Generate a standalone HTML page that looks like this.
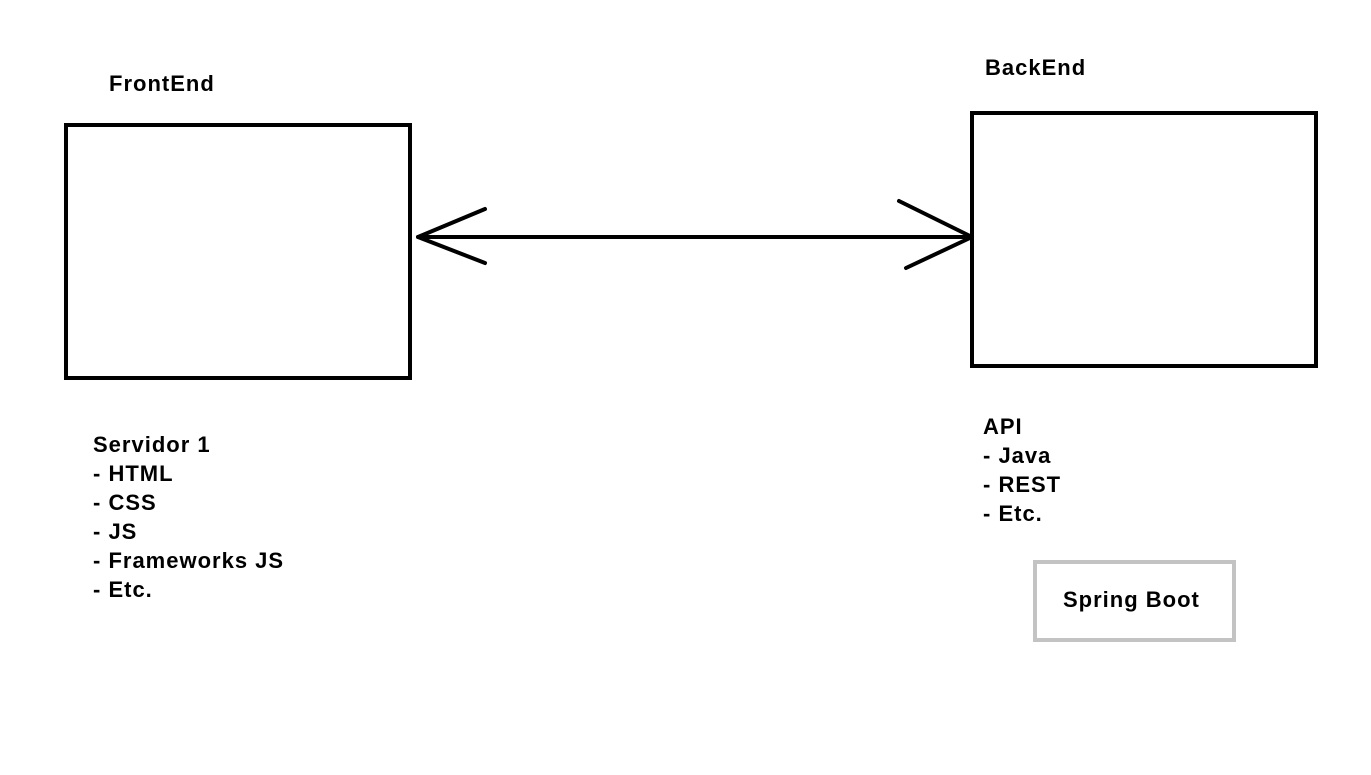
<!DOCTYPE html>
<html><head><style>html,body{margin:0;padding:0;background:#fff}svg{display:block}text{font-family:"Liberation Sans",Arial,sans-serif;font-weight:bold;font-size:22px;letter-spacing:1px;fill:#000}</style></head>
<body>
<svg width="1371" height="775" viewBox="0 0 1371 775" xmlns="http://www.w3.org/2000/svg">
<rect x="0" y="0" width="1371" height="775" fill="#fff"/>
<rect x="66" y="125" width="344" height="253" fill="none" stroke="#000" stroke-width="4"/>
<rect x="972" y="113" width="344" height="253" fill="none" stroke="#000" stroke-width="4"/>
<rect x="1035" y="562" width="199" height="78" fill="none" stroke="#c3c3c3" stroke-width="4"/>
<g stroke="#000" stroke-width="4" fill="none" stroke-linecap="round" stroke-linejoin="round">
<line x1="418" y1="237" x2="972" y2="237"/>
<polyline points="485,209 418,237 485,263"/>
<polyline points="899,201 972,237 906,268"/>
</g>
<text x="109" y="91">FrontEnd</text>
<text x="985" y="75">BackEnd</text>
<text x="93" y="452">Servidor 1</text>
<text x="93" y="481">- HTML</text>
<text x="93" y="510">- CSS</text>
<text x="93" y="539">- JS</text>
<text x="93" y="568">- Frameworks JS</text>
<text x="93" y="597">- Etc.</text>
<text x="983" y="434">API</text>
<text x="983" y="463">- Java</text>
<text x="983" y="492">- REST</text>
<text x="983" y="521">- Etc.</text>
<text x="1063" y="607">Spring Boot</text>
</svg>
</body></html>
